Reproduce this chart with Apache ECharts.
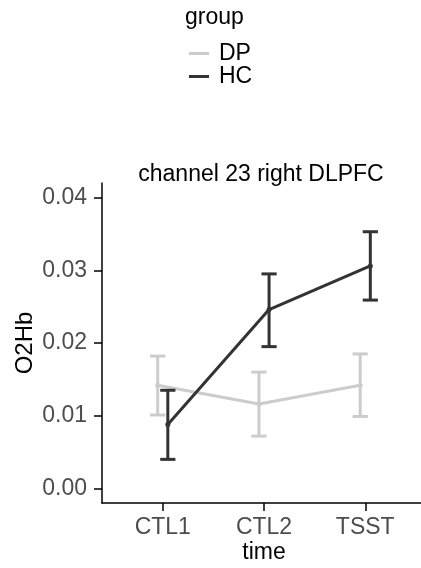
<!DOCTYPE html>
<html>
<head>
<meta charset="utf-8">
<script src="https://cdn.jsdelivr.net/npm/echarts@6/dist/echarts.min.js"></script>
<style>html,body{margin:0;padding:0;background:#fff;}#c{width:421px;height:568px;}</style>
</head>
<body>
<div id="c"></div>
<script>
const categories = ['CTL1', 'CTL2', 'TSST'];
const groups = ['DP', 'HC'];
const dpMean = [0.0142, 0.0116, 0.0142];
const dpLow = [0.0101, 0.0072, 0.0099];
const dpHigh = [0.0182, 0.0160, 0.0185];
const hcMean = [0.0088, 0.0246, 0.0306];
const hcLow = [0.0040, 0.0195, 0.0259];
const hcHigh = [0.0135, 0.0295, 0.0353];
const yTicks = [0, 0.01, 0.02, 0.03, 0.04];

const FONT = 'Liberation Sans, Arial, Helvetica, sans-serif';
const colors = { DP: '#cccccc', HC: '#333333' };
const dodge = { DP: -0.05, HC: 0.05 };

function pts(mean, g) { return mean.map((v, i) => [i + 1 + dodge[g], v]); }
function bars(lo, hi, g) { return lo.map((v, i) => [i + 1 + dodge[g], v, hi[i]]); }

function errRender(color) {
  return function (params, api) {
    const x = api.value(0);
    const a = api.coord([x, api.value(1)]);
    const b = api.coord([x, api.value(2)]);
    const half = api.size([0.075, 0])[0];
    const st = { stroke: color, lineWidth: 3 };
    return {
      type: 'group',
      children: [
        { type: 'line', shape: { x1: a[0], y1: a[1], x2: b[0], y2: b[1] }, style: st },
        { type: 'line', shape: { x1: a[0] - half, y1: a[1], x2: a[0] + half, y2: a[1] }, style: st },
        { type: 'line', shape: { x1: b[0] - half, y1: b[1], x2: b[0] + half, y2: b[1] }, style: st }
      ]
    };
  };
}

const chart = echarts.init(document.getElementById('c'), null, { renderer: 'canvas' });
const option = {
  backgroundColor: '#fff',
  animation: false,
  textStyle: { fontFamily: FONT },
  title: {
    text: 'channel 23 right DLPFC',
    left: 256, top: 158, textAlign: 'center',
    textStyle: { fontFamily: FONT, fontSize: 23, fontWeight: 'normal', color: '#000' }
  },
  graphic: [
    { type: 'text', left: 185, top: 6, style: { text: 'group', font: '23px ' + FONT, fill: '#000' } }
  ],
  legend: {
    data: groups,
    orient: 'vertical',
    left: 184, top: 37,
    icon: 'rect',
    itemWidth: 20, itemHeight: 3, itemGap: 0,
    textStyle: { fontFamily: FONT, fontSize: 23, color: '#000', padding: [0, 0, 0, 5] }
  },
  grid: { left: 102, top: 183, width: 324, height: 320, containLabel: false, outerBoundsMode: 'none' },
  xAxis: {
    type: 'value', min: 0.4, max: 3.6,
    name: 'time', nameLocation: 'middle', nameGap: 38, nameMoveOverlap: false,
    nameTextStyle: { fontFamily: FONT, fontSize: 23, color: '#000' },
    splitLine: { show: false },
    axisLine: { show: true, onZero: false, lineStyle: { color: '#000', width: 1.5 } },
    axisTick: { show: true, length: 8, customValues: [1, 2, 3], lineStyle: { color: '#000', width: 1.5 } },
    axisLabel: { customValues: [1, 2, 3], margin: 13, fontSize: 23, color: '#4d4d4d', fontFamily: FONT,
      formatter: v => categories[Math.round(v) - 1] }
  },
  yAxis: {
    type: 'value', min: -0.002, max: 0.042,
    name: 'O2Hb', nameLocation: 'middle', nameGap: 65, nameRotate: 90, nameMoveOverlap: false,
    nameTextStyle: { fontFamily: FONT, fontSize: 24, color: '#000' },
    splitLine: { show: false },
    axisLine: { show: true, onZero: false, lineStyle: { color: '#000', width: 1.5 } },
    axisTick: { show: true, length: 8, customValues: yTicks, lineStyle: { color: '#000', width: 1.5 } },
    axisLabel: { customValues: yTicks, margin: 15, fontSize: 23, color: '#4d4d4d', fontFamily: FONT,
      formatter: v => v.toFixed(2) }
  },
  series: [
    { name: 'DP', type: 'line', data: pts(dpMean, 'DP'), symbol: 'circle', symbolSize: 5,
      lineStyle: { color: colors.DP, width: 3 }, itemStyle: { color: colors.DP }, z: 2 },
    { name: 'DP_err', type: 'custom', data: bars(dpLow, dpHigh, 'DP'), renderItem: errRender(colors.DP), z: 2 },
    { name: 'HC', type: 'line', data: pts(hcMean, 'HC'), symbol: 'circle', symbolSize: 5,
      lineStyle: { color: colors.HC, width: 3 }, itemStyle: { color: colors.HC }, z: 3 },
    { name: 'HC_err', type: 'custom', data: bars(hcLow, hcHigh, 'HC'), renderItem: errRender(colors.HC), z: 3 }
  ]
};
chart.setOption(option);
</script>
</body>
</html>
